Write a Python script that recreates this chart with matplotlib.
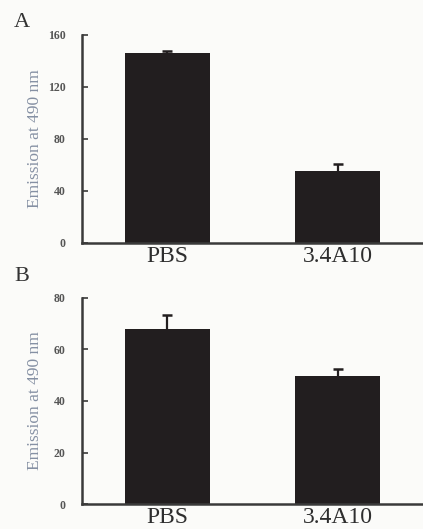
import numpy as np
import matplotlib.pyplot as plt

# data
groups = ['PBS', '3.4A10']
emission_a = [146, 55]
err_a = [1.5, 6]
emission_b = [68, 49.5]
err_b = [5.5, 3]

bar_col = '#221e1f'
ax_col = '#3a3a3a'

fig = plt.figure(figsize=(4.23, 5.29), dpi=100)
fig.patch.set_facecolor('#fbfbf9')

def panel(rect, vals, errs, ymax, step, letter, letter_pos):
    ax = fig.add_axes(rect)
    ax.set_facecolor('none')
    x = np.arange(len(groups))
    vals = np.array(vals)
    errs = np.array(errs)
    ax.bar(x, vals, width=0.5, color=bar_col, zorder=2)
    # upper error only, with a cap on top
    ax.vlines(x, vals, vals + errs, color=bar_col, lw=1.6, zorder=3)
    ax.plot(x, vals + errs, ls='none', marker='_', ms=7, mew=1.8, color=bar_col, zorder=3)
    ax.set_xlim(-0.5, 1.5)
    ax.set_ylim(0, ymax)
    ax.set_yticks(np.arange(0, ymax + 1, step))
    ax.set_xticks(x)
    ax.set_xticklabels(groups, fontsize=17, family='Liberation Serif', color='#2e2e2e')
    for lbl in ax.get_yticklabels():
        lbl.set_fontsize(8.5)
        lbl.set_family('Liberation Serif')
        lbl.set_fontweight('bold')
        lbl.set_color('#555555')
    ax.tick_params(axis='y', direction='in', length=4, width=1.2, color=ax_col, pad=12)
    ax.tick_params(axis='x', length=0, pad=2)
    for s in ['top', 'right']:
        ax.spines[s].set_visible(False)
    for s in ['left', 'bottom']:
        ax.spines[s].set_linewidth(1.8)
        ax.spines[s].set_color(ax_col)
    ax.set_ylabel('Emission at 490 nm', fontsize=12.5, family='Liberation Serif',
                  color='#8590a3')
    ax.yaxis.set_label_coords(-0.115, 0.5)
    fig.text(letter_pos[0], letter_pos[1], letter, fontsize=16, family='Liberation Serif',
             color='#333333', ha='center', va='center')
    return ax

panel([0.194, 0.541, 0.806, 0.393], emission_a, err_a, 160, 40, 'A', (0.052, 0.958))
panel([0.194, 0.047, 0.806, 0.390], emission_b, err_b, 80, 20, 'B', (0.052, 0.478))

fig.savefig('out.png', dpi=100, facecolor=fig.get_facecolor())
